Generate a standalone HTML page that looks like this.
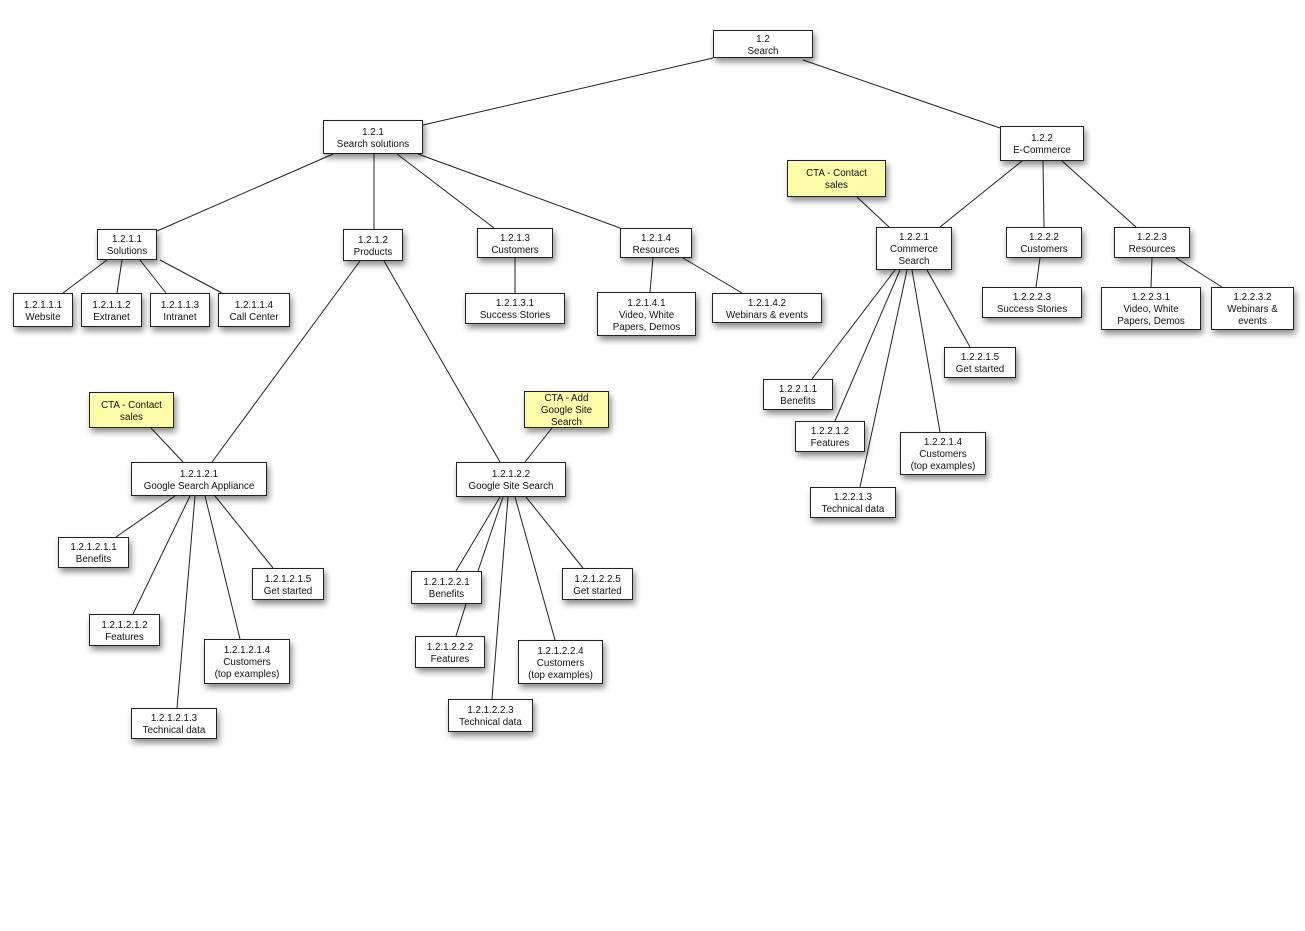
<!DOCTYPE html>
<html><head><meta charset="utf-8"><style>
body{margin:0;background:#fff;width:1305px;height:931px;position:relative;overflow:hidden;font-family:"Liberation Sans",sans-serif;}
svg{position:absolute;left:0;top:0}
.b{position:absolute;box-sizing:border-box;background:#fff;border:1px solid #222;box-shadow:2px 4px 6px rgba(0,0,0,0.45);display:flex;align-items:center;justify-content:center;text-align:center;font-size:9.8px;line-height:12px;color:#111;padding-top:3px}
.y{background:#fcfcab}
</style></head><body>
<svg width="1305" height="931" stroke="#222" stroke-width="1">
<line x1="713" y1="58" x2="423" y2="125"/>
<line x1="803" y1="60" x2="1000" y2="128"/>
<line x1="333" y1="154" x2="157" y2="231"/>
<line x1="374" y1="154" x2="374" y2="229"/>
<line x1="397" y1="154" x2="494" y2="228"/>
<line x1="418" y1="154" x2="620" y2="228"/>
<line x1="107" y1="260" x2="63" y2="293"/>
<line x1="122" y1="260" x2="117" y2="293"/>
<line x1="140" y1="260" x2="166" y2="293"/>
<line x1="160" y1="260" x2="222" y2="293"/>
<line x1="515" y1="258" x2="515" y2="293"/>
<line x1="653" y1="258" x2="650" y2="292"/>
<line x1="683" y1="258" x2="742" y2="293"/>
<line x1="360" y1="261" x2="212" y2="462"/>
<line x1="384" y1="261" x2="500" y2="462"/>
<line x1="151" y1="428" x2="183" y2="462"/>
<line x1="552" y1="428" x2="525" y2="462"/>
<line x1="175" y1="496" x2="116" y2="537"/>
<line x1="190" y1="496" x2="133" y2="614"/>
<line x1="195" y1="496" x2="177" y2="708"/>
<line x1="205" y1="496" x2="240" y2="639"/>
<line x1="215" y1="496" x2="273" y2="568"/>
<line x1="500" y1="497" x2="456" y2="571"/>
<line x1="503" y1="497" x2="478" y2="571"/>
<line x1="508" y1="497" x2="492" y2="699"/>
<line x1="515" y1="497" x2="555" y2="640"/>
<line x1="526" y1="497" x2="583" y2="568"/>
<line x1="466" y1="604" x2="456" y2="636"/>
<line x1="1022" y1="161" x2="940" y2="227"/>
<line x1="1043" y1="161" x2="1044" y2="227"/>
<line x1="1062" y1="161" x2="1136" y2="227"/>
<line x1="857" y1="197" x2="889" y2="227"/>
<line x1="1040" y1="258" x2="1036" y2="287"/>
<line x1="1152" y1="258" x2="1151" y2="287"/>
<line x1="1176" y1="258" x2="1222" y2="287"/>
<line x1="895" y1="270" x2="812" y2="379"/>
<line x1="900" y1="270" x2="835" y2="421"/>
<line x1="907" y1="270" x2="860" y2="487"/>
<line x1="912" y1="270" x2="940" y2="432"/>
<line x1="927" y1="270" x2="970" y2="347"/>
</svg>
<div class="b" style="left:713px;top:30px;width:100px;height:28px">1.2<br>Search</div>
<div class="b" style="left:323px;top:120px;width:100px;height:34px">1.2.1<br>Search solutions</div>
<div class="b" style="left:1000px;top:126px;width:84px;height:35px">1.2.2<br>E-Commerce</div>
<div class="b y" style="left:787px;top:160px;width:99px;height:37px">CTA - Contact<br>sales</div>
<div class="b" style="left:97px;top:229px;width:60px;height:31px">1.2.1.1<br>Solutions</div>
<div class="b" style="left:343px;top:229px;width:60px;height:32px">1.2.1.2<br>Products</div>
<div class="b" style="left:477px;top:228px;width:76px;height:30px">1.2.1.3<br>Customers</div>
<div class="b" style="left:620px;top:228px;width:72px;height:30px">1.2.1.4<br>Resources</div>
<div class="b" style="left:13px;top:293px;width:60px;height:34px">1.2.1.1.1<br>Website</div>
<div class="b" style="left:81px;top:293px;width:61px;height:34px">1.2.1.1.2<br>Extranet</div>
<div class="b" style="left:150px;top:293px;width:60px;height:34px">1.2.1.1.3<br>Intranet</div>
<div class="b" style="left:218px;top:293px;width:72px;height:34px">1.2.1.1.4<br>Call Center</div>
<div class="b" style="left:465px;top:293px;width:100px;height:31px">1.2.1.3.1<br>Success Stories</div>
<div class="b" style="left:597px;top:292px;width:99px;height:44px">1.2.1.4.1<br>Video, White<br>Papers, Demos</div>
<div class="b" style="left:712px;top:293px;width:110px;height:30px">1.2.1.4.2<br>Webinars &amp; events</div>
<div class="b" style="left:876px;top:227px;width:76px;height:43px">1.2.2.1<br>Commerce<br>Search</div>
<div class="b" style="left:1006px;top:227px;width:76px;height:31px">1.2.2.2<br>Customers</div>
<div class="b" style="left:1114px;top:227px;width:76px;height:31px">1.2.2.3<br>Resources</div>
<div class="b" style="left:982px;top:287px;width:100px;height:31px">1.2.2.2.3<br>Success Stories</div>
<div class="b" style="left:1101px;top:287px;width:100px;height:43px">1.2.2.3.1<br>Video, White<br>Papers, Demos</div>
<div class="b" style="left:1211px;top:287px;width:83px;height:43px">1.2.2.3.2<br>Webinars &amp;<br>events</div>
<div class="b" style="left:944px;top:347px;width:72px;height:31px">1.2.2.1.5<br>Get started</div>
<div class="b" style="left:763px;top:379px;width:70px;height:31px">1.2.2.1.1<br>Benefits</div>
<div class="b" style="left:795px;top:421px;width:70px;height:31px">1.2.2.1.2<br>Features</div>
<div class="b" style="left:900px;top:432px;width:86px;height:43px">1.2.2.1.4<br>Customers<br>(top examples)</div>
<div class="b" style="left:810px;top:487px;width:86px;height:31px">1.2.2.1.3<br>Technical data</div>
<div class="b y" style="left:89px;top:392px;width:85px;height:36px">CTA - Contact<br>sales</div>
<div class="b y" style="left:524px;top:391px;width:85px;height:37px">CTA - Add<br>Google Site<br>Search</div>
<div class="b" style="left:131px;top:462px;width:136px;height:34px">1.2.1.2.1<br>Google Search Appliance</div>
<div class="b" style="left:456px;top:462px;width:110px;height:35px">1.2.1.2.2<br>Google Site Search</div>
<div class="b" style="left:58px;top:537px;width:71px;height:31px">1.2.1.2.1.1<br>Benefits</div>
<div class="b" style="left:252px;top:568px;width:72px;height:32px">1.2.1.2.1.5<br>Get started</div>
<div class="b" style="left:89px;top:614px;width:71px;height:32px">1.2.1.2.1.2<br>Features</div>
<div class="b" style="left:204px;top:639px;width:86px;height:45px">1.2.1.2.1.4<br>Customers<br>(top examples)</div>
<div class="b" style="left:131px;top:708px;width:86px;height:31px">1.2.1.2.1.3<br>Technical data</div>
<div class="b" style="left:411px;top:571px;width:71px;height:33px">1.2.1.2.2.1<br>Benefits</div>
<div class="b" style="left:562px;top:568px;width:71px;height:32px">1.2.1.2.2.5<br>Get started</div>
<div class="b" style="left:415px;top:636px;width:70px;height:32px">1.2.1.2.2.2<br>Features</div>
<div class="b" style="left:518px;top:640px;width:85px;height:44px">1.2.1.2.2.4<br>Customers<br>(top examples)</div>
<div class="b" style="left:448px;top:699px;width:85px;height:33px">1.2.1.2.2.3<br>Technical data</div>
</body></html>
